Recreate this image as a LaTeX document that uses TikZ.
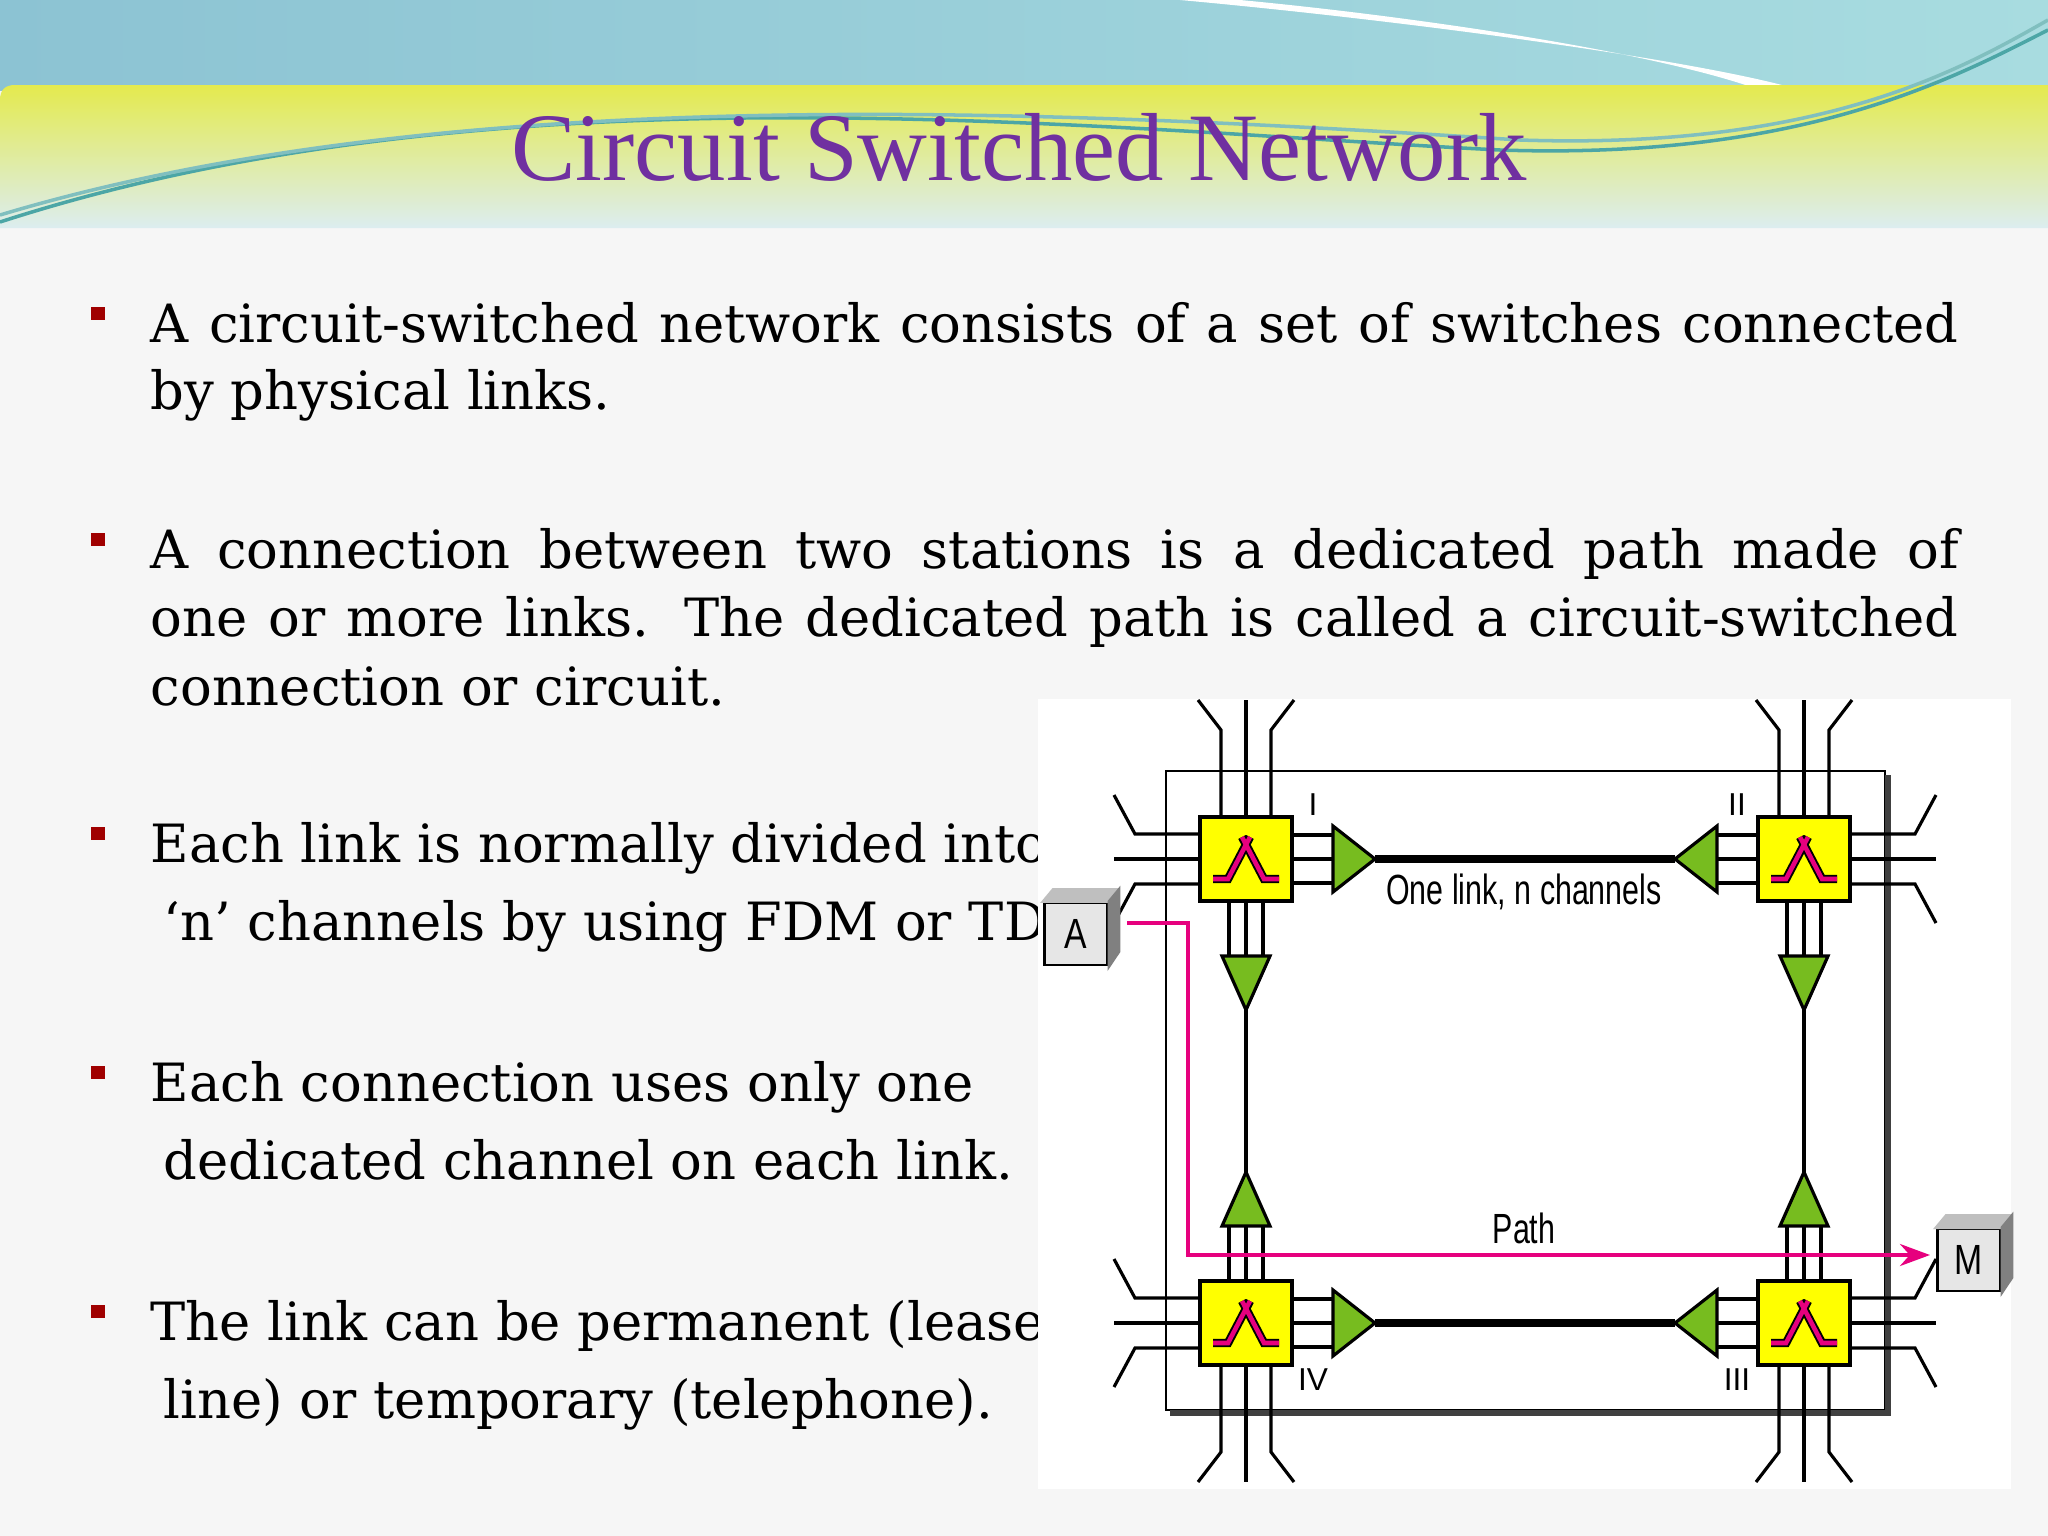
\documentclass[tikz,border=0pt]{standalone}
\usepackage{fontspec}
\usetikzlibrary{arrows.meta}
\setmainfont{DejaVu Serif}
\newfontfamily\titlefont{Liberation Serif}
\newfontfamily\labfont{Liberation Sans}
\definecolor{skyband}{HTML}{8CC3D3}
\definecolor{skylight}{HTML}{A8DCE0}
\definecolor{limeband}{HTML}{E4EA4E}
\definecolor{paleband}{HTML}{DCEDF0}
\definecolor{pagebg}{HTML}{F6F6F6}
\definecolor{titlepurple}{HTML}{7030A0}
\definecolor{bulletred}{HTML}{A00000}
\definecolor{swyellow}{HTML}{FFFF00}
\definecolor{trigreen}{HTML}{77BC1F}
\definecolor{pathpink}{HTML}{E6007E}
\definecolor{boxgrey}{HTML}{E6E6E6}
\tikzset{
  wire/.style={line width=0.9pt},
  switch/.style={draw,fill=swyellow,line width=0.9pt,minimum width=0.92cm,minimum height=0.84cm,inner sep=0pt},
  station/.style={draw,fill=boxgrey,line width=0.8pt,minimum width=0.63cm,minimum height=0.62cm,inner sep=0pt,font=\labfont\large},
  bodytext/.style={anchor=base west,inner sep=0pt,font=\fontsize{15}{18}\selectfont},
  bullet/.style={fill=bulletred,minimum size=0.13cm,inner sep=0pt},
  roman/.style={font=\labfont\small}
}
% one switch with its wires and amplifiers, mirrored by #2 and #3
\newcommand\swwires[4]{%
  \begin{scope}[shift={(#1)},xscale=#2,yscale=#3]
    \draw[wire] (-25,-42) -- (-25,-129) -- (-48,-159);
    \draw[wire] (0,-42) -- (0,-159);
    \draw[wire] (25,-42) -- (25,-129) -- (48,-159);
    \draw[wire] (-46,-25) -- (-111,-25) -- (-132,-64);
    \draw[wire] (-46,0) -- (-132,0);
    \draw[wire] (-46,25) -- (-111,25) -- (-132,64);
    \foreach \o in {-24,0,24} \draw[wire] (46,\o) -- (87,\o);
    \foreach \o in {-17,0,17} \draw[wire] (\o,42) -- (\o,97);
    \draw[wire,fill=trigreen] (87,-33) -- (87,33) -- (129,0) -- cycle;
    \draw[wire,fill=trigreen] (-24,97) -- (24,97) -- (0,151) -- cycle;
    \coordinate (#4h) at (129,0);
    \coordinate (#4v) at (0,151);
  \end{scope}
  \begin{scope}[shift={(#1)}]
    \draw[line width=2.4pt] (-33,20) -- (-18,20) -- (4,-22);
    \draw[line width=2.4pt] (33,20) -- (18,20) -- (-4,-22);
    \draw[line width=1.3pt,pathpink] (-33,20) -- (-18,20) -- (4,-22);
    \draw[line width=1.3pt,pathpink] (33,20) -- (18,20) -- (-4,-22);
  \end{scope}}
\begin{document}
\begin{tikzpicture}[x=0.01cm,y=-0.01cm]
\useasboundingbox (0,0) rectangle (2048,1536);
% slide background
\fill[pagebg] (0,0) rectangle (2048,1536);
\shade[left color=skyband,right color=skylight] (0,0) rectangle (2048,90);
\fill[white] (1180,0) .. controls (1400,20) and (1700,60) .. (1800,90) -- (1760,90) .. controls (1650,50) and (1400,15) .. (1240,0) -- cycle;
\shade[top color=limeband,bottom color=paleband] (15,85) -- (2048,85) -- (2048,228) -- (0,228) -- (0,100) .. controls (0,90) and (5,85) .. (15,85) -- cycle;
\draw[teal!70,line width=1pt] (0,222) .. controls (500,60) and (1100,130) .. (1500,150) .. controls (1800,160) and (1950,80) .. (2048,30);
\draw[teal!50,line width=1pt] (0,215) .. controls (450,80) and (1050,110) .. (1520,140) .. controls (1820,150) and (1960,70) .. (2048,20);
% title
\node[font=\titlefont\fontsize{27.5}{33}\selectfont,text=titlepurple,anchor=base] (title) at (1019,180) {Circuit Switched Network};
% bullets
\foreach \y in {313,539,833,1072,1311} \node[bullet] at (98,\y) {};
\node[bodytext] (b1a) at (150,342) {\makebox[18.07cm][s]{A circuit-switched network consists of a set of switches connected}};
\node[bodytext] (b1b) at (150,409) {by physical links.};
\node[bodytext] (b2a) at (150,568) {\makebox[18.07cm][s]{A connection between two stations is a dedicated path made of}};
\node[bodytext] (b2b) at (150,636) {\makebox[18.07cm][s]{one or more links. The dedicated path is called a circuit-switched}};
\node[bodytext] (b2c) at (150,705) {connection or circuit.};
\node[bodytext] (b3a) at (150,862) {Each link is normally divided into};
\node[bodytext] (b3b) at (163,940) {‘n’ channels by using FDM or TDM.};
\node[bodytext] (b4a) at (150,1101) {Each connection uses only one};
\node[bodytext] (b4b) at (163,1179) {dedicated channel on each link.};
\node[bodytext] (b5a) at (150,1340) {The link can be permanent (leased};
\node[bodytext] (b5b) at (163,1418) {line) or temporary (telephone).};
% diagram
\fill[white] (1038,699) rectangle (2011,1489);
\draw[line width=0.7pt] (1166,771) rectangle (1885,1410);
\draw[line width=1.8pt,black!75] (1888,775) -- (1888,1413) -- (1170,1413);
\node[switch] (swI) at (1246,859) {};
\node[switch] (swII) at (1804,859) {};
\node[switch] (swIV) at (1246,1323) {};
\node[switch] (swIII) at (1804,1323) {};
\swwires{1246,859}{1}{1}{I}
\swwires{1804,859}{-1}{1}{II}
\swwires{1246,1323}{1}{-1}{IV}
\swwires{1804,1323}{-1}{-1}{III}
\draw[line width=2.2pt] (Ih) -- (IIh);
\draw[line width=2.2pt] (IVh) -- (IIIh);
\draw[line width=1.3pt] (Iv) -- (IVv);
\draw[line width=1.3pt] (IIv) -- (IIIv);
\node[roman] (lI) at (1313,805) {I};
\node[roman] (lII) at (1737,805) {II};
\node[roman] (lIV) at (1313,1380) {IV};
\node[roman] (lIII) at (1737,1380) {III};
\node[font=\labfont\fontsize{12}{14}\selectfont] (link) at (1524,892) {\scalebox{0.72}[1]{One link, n channels}};
\node[font=\labfont\fontsize{12}{14}\selectfont] (pathlab) at (1524,1228) {\scalebox{0.72}[1]{Path}};
% stations
\node[station] (boxA) at (1076,934) {\scalebox{0.8}[1]{A}};
\fill[black!25,draw,line width=0.8pt] (boxA.north west) -- ++(10,-12) -- ++(63,0) -- (boxA.north east) -- cycle;
\fill[black!50,draw,line width=0.8pt] (boxA.north east) -- ++(10,-12) -- ++(0,62) -- (boxA.south east) -- cycle;
\node[station] (boxM) at (1969,1260) {\scalebox{0.8}[1]{M}};
\fill[black!25,draw,line width=0.8pt] (boxM.north west) -- ++(10,-12) -- ++(63,0) -- (boxM.north east) -- cycle;
\fill[black!50,draw,line width=0.8pt] (boxM.north east) -- ++(10,-12) -- ++(0,62) -- (boxM.south east) -- cycle;
% dedicated path
\coordinate (pstart) at (1127,923);
\coordinate (pend) at (1930,1255);
\draw[pathpink,line width=1.1pt,-{Stealth[length=0.3cm,width=0.22cm]}] (pstart) -| (1188,1255) -- (pend);
\end{tikzpicture}
\end{document}
